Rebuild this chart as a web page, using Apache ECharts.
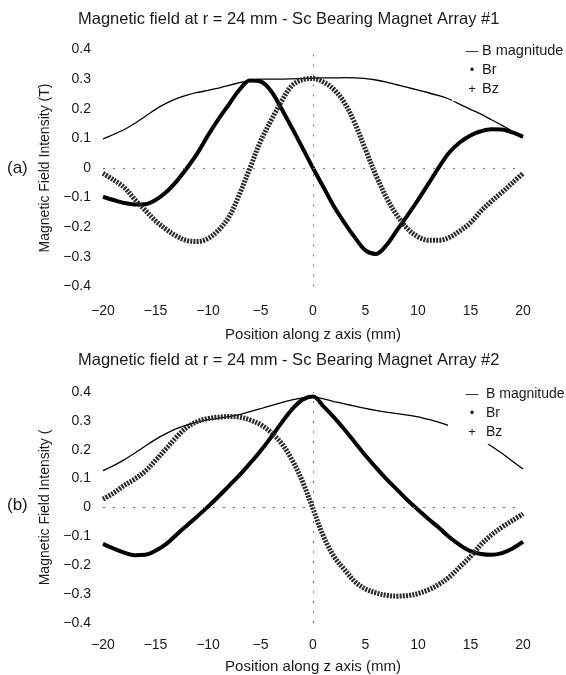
<!DOCTYPE html>
<html>
<head>
<meta charset="utf-8">
<script src="https://cdn.jsdelivr.net/npm/echarts@6/dist/echarts.min.js"></script>
<style>
  html, body { margin: 0; padding: 0; background: #fff; }
  #chart { width: 566px; height: 675px; }
</style>
</head>
<body>
<div id="chart"></div>
<script>
// position along z axis (mm)
var zPos = [-20, -19, -18, -17, -16, -15, -14, -13, -12, -11, -10, -9, -8, -7, -6, -5, -4, -3, -2, -1,
            0, 1, 2, 3, 4, 5, 6, 7, 8, 9, 10, 11, 12, 13, 14, 15, 16, 17, 18, 19, 20];

// (a) Sc Bearing Magnet Array #1
var aMag = [0.098, 0.113, 0.129, 0.150, 0.174, 0.198, 0.218, 0.234, 0.246, 0.255, 0.262, 0.270, 0.279, 0.288, 0.296, 0.300, 0.300, 0.300, 0.301, 0.302,
            0.303, 0.304, 0.304, 0.305, 0.304, 0.302, 0.297, 0.290, 0.281, 0.272, 0.263, 0.254, 0.244, 0.232, 0.215, 0.198, 0.182, 0.163, 0.144, 0.124, 0.105];
var aBr = [-0.097, -0.108, -0.118, -0.123, -0.122, -0.108, -0.082, -0.045, 0.000, 0.050, 0.110, 0.165, 0.215, 0.264, 0.295, 0.292, 0.260, 0.200, 0.135, 0.068,
           0.000, -0.065, -0.130, -0.185, -0.235, -0.278, -0.290, -0.260, -0.210, -0.160, -0.108, -0.053, 0.003, 0.053, 0.087, 0.110, 0.124, 0.131, 0.130, 0.120, 0.105];
var aBz = [-0.018, -0.040, -0.065, -0.105, -0.142, -0.178, -0.207, -0.230, -0.245, -0.248, -0.238, -0.210, -0.165, -0.088, 0.000, 0.090, 0.160, 0.225, 0.278, 0.298,
           0.302, 0.290, 0.265, 0.220, 0.150, 0.062, -0.025, -0.100, -0.160, -0.205, -0.232, -0.244, -0.244, -0.234, -0.212, -0.185, -0.145, -0.112, -0.082, -0.050, -0.018];

// (b) Sc Bearing Magnet Array #2
var bMag = [0.128, 0.145, 0.165, 0.188, 0.212, 0.236, 0.256, 0.273, 0.286, 0.296, 0.304, 0.309, 0.315, 0.322, 0.332, 0.342, 0.353, 0.363, 0.373, 0.380,
            0.384, 0.376, 0.367, 0.359, 0.351, 0.343, 0.336, 0.330, 0.325, 0.320, 0.314, 0.305, 0.295, 0.283, 0.268, 0.255, 0.238, 0.212, 0.188, 0.160, 0.133];
var bBr = [-0.126, -0.142, -0.156, -0.165, -0.164, -0.150, -0.127, -0.094, -0.062, -0.030, 0.003, 0.038, 0.075, 0.112, 0.153, 0.196, 0.243, 0.293, 0.340, 0.373,
           0.384, 0.350, 0.312, 0.270, 0.225, 0.180, 0.138, 0.098, 0.062, 0.025, -0.008, -0.040, -0.070, -0.103, -0.130, -0.151, -0.161, -0.164, -0.158, -0.142, -0.118];
var bBz = [0.029, 0.050, 0.076, 0.098, 0.125, 0.163, 0.203, 0.244, 0.278, 0.298, 0.308, 0.313, 0.315, 0.313, 0.303, 0.287, 0.260, 0.222, 0.165, 0.090,
           -0.005, -0.100, -0.170, -0.215, -0.257, -0.282, -0.296, -0.304, -0.307, -0.305, -0.298, -0.285, -0.266, -0.240, -0.205, -0.170, -0.128, -0.095, -0.068, -0.045, -0.022];

var seriesNames = ['B magnitude', 'Br', 'Bz'];
var legendGlyphs = { 'B magnitude': '—', 'Br': '•', 'Bz': '+' };

var font = 'Liberation Sans, Arial, sans-serif';
var ink = '#1a1a1a';

function pairs(arr) {
    return zPos.map(function (z, i) { return [z, arr[i]]; });
}
function minus(s) {
    return String(s).replace('-', '\u2212');
}

var chartDom = document.getElementById('chart');
var myChart = echarts.init(chartDom, null, { renderer: 'canvas' });

var zeroLines = {
    silent: true,
    symbol: 'none',
    label: { show: false },
    lineStyle: { color: '#777', width: 1, type: [2, 8] },
    data: [{ yAxis: 0 }, { xAxis: 0 }]
};

function xAxisFor(idx, labelMargin, nameGap) {
    return {
        gridIndex: idx,
        type: 'value',
        min: -20, max: 20, interval: 5,
        name: 'Position along z axis (mm)',
        nameLocation: 'middle',
        nameGap: nameGap,
        nameTextStyle: { color: ink, fontSize: 15, fontFamily: font },
        axisLine: { show: false },
        axisTick: { show: false },
        splitLine: { show: false },
        axisLabel: {
            color: ink, fontSize: 14, fontFamily: font, margin: labelMargin,
            formatter: function (v) { return minus(v); }
        }
    };
}

function yAxisFor(idx, name) {
    return {
        gridIndex: idx,
        type: 'value',
        min: -0.4, max: 0.4, interval: 0.1,
        name: name,
        nameLocation: 'middle',
        nameGap: 49,
        nameTextStyle: { color: ink, fontSize: 14, fontFamily: font },
        axisLine: { show: false },
        axisTick: { show: false },
        splitLine: { show: false },
        axisLabel: {
            color: ink, fontSize: 14, fontFamily: font, margin: 12,
            formatter: function (v) { return Math.abs(v) < 1e-9 ? '0' : minus(v.toFixed(1)); }
        }
    };
}

function seriesFor(idx, mag, br, bz) {
    return [
        {
            name: 'B magnitude', type: 'line', xAxisIndex: idx, yAxisIndex: idx,
            data: pairs(mag), showSymbol: false, smooth: 0.2,
            lineStyle: { color: '#000', width: 1.3 },
            itemStyle: { color: '#000' },
            markLine: zeroLines, z: 3
        },
        {
            name: 'Br', type: 'line', xAxisIndex: idx, yAxisIndex: idx,
            data: pairs(br), showSymbol: false, smooth: 0.35,
            lineStyle: { color: '#000', width: 4 },
            itemStyle: { color: '#000' }, z: 3
        },
        {
            name: 'Bz', type: 'line', xAxisIndex: idx, yAxisIndex: idx,
            data: pairs(bz), showSymbol: false, smooth: 0.35,
            lineStyle: { color: '#2a2a2a', width: 5, type: [2, 1.2] },
            itemStyle: { color: '#2a2a2a' }, z: 3
        }
    ];
}

function legendFor(left, top, glyphWidth, size) {
    return {
        orient: 'vertical',
        left: left, top: top,
        padding: [3, 6, 4, 4],
        itemGap: 3,
        itemWidth: 0, itemHeight: 0,
        backgroundColor: '#fff',
        selectedMode: false,
        data: seriesNames,
        formatter: function (name) { return '{g|' + legendGlyphs[name] + '}' + name; },
        textStyle: {
            color: ink, fontSize: size, fontFamily: font, lineHeight: 16,
            rich: { g: { width: glyphWidth, align: 'center', fontSize: 13, fontFamily: font, color: ink } }
        },
        z: 10
    };
}

var titleStyle = { color: ink, fontSize: 16.5, fontWeight: 'normal', fontFamily: font };
var tagStyle = { color: ink, fontSize: 17, fontWeight: 'normal', fontFamily: font };

var option = {
    animation: false,
    backgroundColor: '#fff',
    title: [
        { text: 'Magnetic field at r = 24 mm - Sc Bearing Magnet Array #1', left: 78, top: 11, textStyle: titleStyle, padding: 0 },
        { text: 'Magnetic field at r = 24 mm - Sc Bearing Magnet Array #2', left: 78, top: 352, textStyle: titleStyle, padding: 0 },
        { text: '(a)', left: 7, top: 160, textStyle: tagStyle, padding: 0 },
        { text: '(b)', left: 7, top: 497, textStyle: tagStyle, padding: 0 }
    ],
    legend: [
        legendFor(452, 40, 20, 14.5),
        legendFor(448, 383, 28, 14)
    ],
    grid: [
        { left: 103, right: 43, top: 49.5, height: 237 },
        { left: 103, right: 43, top: 392, height: 233 }
    ],
    xAxis: [xAxisFor(0, 18, 41), xAxisFor(1, 15, 36)],
    yAxis: [yAxisFor(0, 'Magnetic Field Intensity (T)'), yAxisFor(1, 'Magnetic Field Intensity (')],
    series: seriesFor(0, aMag, aBr, aBz).concat(seriesFor(1, bMag, bBr, bBz))
};

myChart.setOption(option);
</script>
</body>
</html>
